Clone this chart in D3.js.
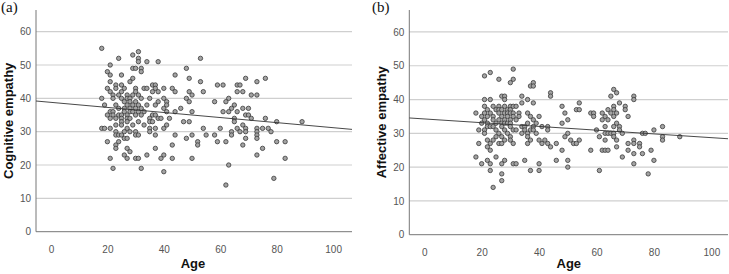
<!DOCTYPE html>
<html>
<head>
<meta charset="utf-8">
<script src="https://cdn.jsdelivr.net/npm/d3@7"></script>
<style>
  body{margin:0;background:#fff;}
  svg{display:block;}
  .tick text{font-family:"Liberation Sans",Arial,sans-serif;font-size:10px;fill:#555;}
  .axis-title{font-family:"Liberation Sans",Arial,sans-serif;font-weight:bold;font-size:13px;fill:#111;}
  .panel-tag{font-family:"Liberation Serif","Times New Roman",serif;font-size:15px;fill:#111;}
</style>
</head>
<body>
<div id="chart"></div>
<script>
// each row: [score, [ages having that score]]
var cognitiveRows=[
  [55,[18]],[54,[31]],[53,[29]],[52,[24,31,53]],[51,[31,34,38]],[50,[21]],
  [49,[29,30,32,48]],[48,[20,32]],[47,[21,25,44]],[46,[29,49,69,76]],[45,[21,28,53,73]],
  [44,[23,25,36,37,59,61,66,67]],[43,[20,23,26,30,33,34,37,40,43]],
  [42,[21,25,30,36,38,44,49,54,66,68]],[41,[22,24,27,29,31,50,71,73]],
  [40,[18,22,25,27,28,32,35,40,48,63]],[39,[26,28,30,38,41,49,58,62]],
  [38,[19,23,27,29,31,34,37,41,65]],[37,[24,26,28,30,32,40,46,64,68,70]],
  [36,[21,22,26,28,29,31,33,41,44,50,61,63,66]],[35,[20,22,24,25,27,30,32,36,37,69,70]],
  [34,[21,23,25,27,28,35,38,39,42,65,71,76]],[33,[25,27,31,35,36,47,49,65,80,89]],
  [32,[23,25,29,33,41,68]],[31,[18,19,21,27,35,37,40,54,60,66,69,73,75,77]],
  [30,[23,26,28,30,35,64,67,69,73,78]],[29,[23,24,25,30,31,37,44,50,55,58,64,73]],
  [28,[26,27,48,69,73]],[27,[20,24,52,59,62,80,83]],[26,[23,43,52,68]],[25,[23,27,37,75]],
  [24,[28]],[23,[26,34,40,73]],[22,[21,27,30,31,39,43,50,83]],[20,[63]],[19,[22,32]],
  [18,[40]],[16,[79]],[14,[62]]
];
var affectiveRows=[
  [49,[31]],[48,[23]],[47,[21]],[46,[26,31]],[45,[30,38]],[44,[37,38]],[43,[66]],[42,[44,67]],
  [41,[27,28,34,44,65,73]],[40,[21,23,28,36,73]],[39,[34,38,54,68]],
  [38,[21,24,26,28,30,31,32,48,66,70]],[37,[22,25,26,27,29,30,53,54,64,66,70]],
  [36,[18,21,23,26,28,29,30,31,33,36,49,58,59,62,65,67]],
  [35,[20,22,24,27,29,31,33,37,40,59,63,66,71]],[34,[21,24,26,28,30,32,38,50,62,64]],
  [33,[20,22,25,27,28,29,30,36,39,48,67]],[32,[22,23,24,27,30,34,35,38,41,43,63,66,68,83]],
  [31,[19,21,25,28,31,32,35,37,38,43,60,68,80]],[30,[21,26,29,34,36,39,50,63,64,65,66,69,76,77]],
  [29,[25,27,30,36,49,61,66,83,89]],[28,[22,24,28,30,37,40,42,51,54,63,67,73,83]],
  [27,[19,23,26,27,31,36,41,43,46,52,53,71,73,75]],[26,[22,44,67,75]],
  [25,[23,48,58,62,63,64,71,79]],[24,[73,76]],[23,[18,25,69]],[22,[22,28,35,46,50,80]],
  [21,[20,23,27,31,32,40,73]],[20,[50]],[19,[23,37,40,61]],[18,[27,78]],[16,[27]],[14,[24]]
];
// fitted line: [intercept, slope]
var cognitiveFit=[38.8,-0.076];
var affectiveFit=[34.26,-0.0554];
var xTicks=[0,20,40,60,80,100];
var yTicks=[0,10,20,30,40,50,60];

var W=729,H=274;
var svg=d3.select("#chart").append("svg").attr("width",W).attr("height",H);

function toPoints(rows){
  var pts=[];
  rows.forEach(function(r){r[1].forEach(function(a){pts.push({age:a,score:r[0]});});});
  return pts;
}

function drawPanel(p){
  var x=d3.scaleLinear().domain(p.xDom).range([p.left,p.right]);
  var y=d3.scaleLinear().domain([0,66.5]).range([p.bottom,p.top]);
  var g=svg.append("g");

  g.append("g").selectAll("line").data(yTicks.slice(1)).enter().append("line")
    .attr("x1",p.left).attr("x2",p.right)
    .attr("y1",function(d){return y(d);}).attr("y2",function(d){return y(d);})
    .attr("stroke","#cfcfcf").attr("stroke-width",1.2);

  var ya=g.append("g").attr("transform","translate("+p.left+",0)")
    .call(d3.axisLeft(y).tickValues(yTicks).tickSize(0).tickPadding(5));
  ya.select(".domain").remove();
  var xa=g.append("g").attr("transform","translate(0,"+p.bottom+")")
    .call(d3.axisBottom(x).tickValues(xTicks).tickSize(0).tickPadding(14));
  xa.select(".domain").remove();

  g.append("line").attr("x1",p.left).attr("x2",p.left).attr("y1",p.top).attr("y2",p.bottom)
    .attr("stroke","#777").attr("stroke-width",1);
  g.append("line").attr("x1",p.left).attr("x2",p.right).attr("y1",p.bottom).attr("y2",p.bottom)
    .attr("stroke","#777").attr("stroke-width",1);

  g.append("g").selectAll("circle").data(toPoints(p.rows)).enter().append("circle")
    .attr("cx",function(d){return x(d.age);}).attr("cy",function(d){return y(d.score);})
    .attr("r",2.2).attr("fill","#a3a3a3").attr("stroke","#3a3a3a").attr("stroke-width",0.8);

  var x0=p.xDom[0],x1=p.xDom[1];
  g.append("line")
    .attr("x1",x(x0)).attr("y1",y(p.fit[0]+p.fit[1]*x0))
    .attr("x2",x(x1)).attr("y2",y(p.fit[0]+p.fit[1]*x1))
    .attr("stroke","#333").attr("stroke-width",0.9);

  g.append("text").attr("class","axis-title").attr("text-anchor","middle")
    .attr("x",(x(0)+x(100))/2+1).attr("y",268).text("Age");
  g.append("text").attr("class","axis-title").attr("text-anchor","middle")
    .attr("transform","translate("+p.titleX+","+(p.top+p.bottom)/2+") rotate(-90)")
    .text(p.yTitle);
  g.append("text").attr("class","panel-tag").attr("x",p.tagX).attr("y",12).text(p.tag);
}

drawPanel({rows:cognitiveRows,fit:cognitiveFit,xDom:[-5.3,106.7],
  left:36,right:352,top:10,bottom:231.7,titleX:13,yTitle:"Cognitive empathy",tag:"(a)",tagX:1});
drawPanel({rows:affectiveRows,fit:affectiveFit,xDom:[-5.2,105.8],
  left:409.3,right:728,top:10,bottom:234.7,titleX:386,yTitle:"Affective empathy",tag:"(b)",tagX:372});
</script>
</body>
</html>
